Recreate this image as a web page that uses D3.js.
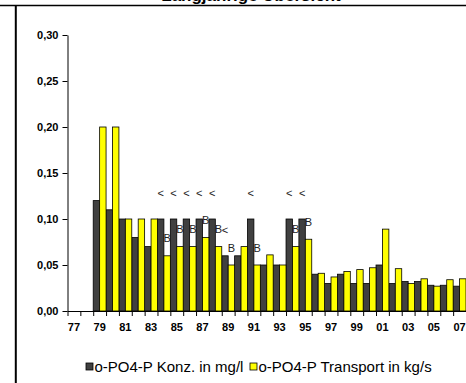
<!DOCTYPE html>
<html>
<head>
<meta charset="utf-8">
<script src="https://cdn.jsdelivr.net/npm/d3@7"></script>
<style>
  html, body { margin: 0; padding: 0; background: #fff; }
  svg { display: block; font-family: Arial, "Liberation Sans", sans-serif; }
</style>
</head>
<body>
<svg id="chart" width="466" height="383"></svg>
<script>
// Years on the category axis (two-digit labels)
const years = d3.range(1977, 2008);
// o-PO4-P concentration in mg/l (null = no measurement)
const konz = [null, null, 0.12, 0.11, 0.10, 0.08, 0.07, 0.10, 0.10, 0.10,
  0.10, 0.10, 0.06, 0.06, 0.10, 0.05, 0.05, 0.10, 0.10, 0.040,
  0.030, 0.040, 0.030, 0.030, 0.050, 0.030, 0.032, 0.032, 0.028, 0.028, 0.027];
// o-PO4-P transport in kg/s
const transport = [null, null, 0.20, 0.20, 0.10, 0.10, 0.10, 0.06, 0.07, 0.07,
  0.08, 0.07, 0.05, 0.07, 0.05, 0.061, 0.05, 0.07, 0.078, 0.041,
  0.037, 0.043, 0.045, 0.047, 0.089, 0.046, 0.030, 0.035, 0.027, 0.034, 0.035];
// Flags: "<" below detection limit (concentration), "B" computed value (transport)
const konzFlags = ["", "", "", "", "", "", "", "<", "<", "<",
  "<", "<", "<", "", "<", "", "", "<", "<", "",
  "", "", "", "", "", "", "", "", "", "", ""];
const transportFlags = ["", "", "", "", "", "", "", "B", "B", "B",
  "B", "B", "B", "", "B", "", "", "B", "B", "",
  "", "", "", "", "", "", "", "", "", "", ""];
const yTicks = [0, 0.05, 0.10, 0.15, 0.20, 0.25, 0.30];
const seriesNames = ["o-PO4-P Konz. in mg/l", "o-PO4-P Transport in kg/s"];
const colors = ["#404040", "#ffff00"];

const svg = d3.select("#chart");

// frame lines
svg.append("line").attr("x1", 0).attr("x2", 466).attr("y1", 5.5).attr("y2", 5.5)
  .attr("stroke", "#000").attr("stroke-width", 1.5);
svg.append("line").attr("x1", 15.8).attr("x2", 15.8).attr("y1", 5).attr("y2", 383)
  .attr("stroke", "#000").attr("stroke-width", 2);

// title
svg.append("text").attr("x", 251).attr("y", 0.5).attr("text-anchor", "middle")
  .attr("font-size", 17).attr("font-weight", "bold").text("Langjährige Übersicht");

const plotLeft = 67.5, plotRight = 466, plotTop = 35, plotBottom = 311;
const x = d3.scaleBand().domain(years).range([plotLeft, plotRight]).padding(0);
const xIdx = d3.scaleLinear().domain([0, years.length]).range([plotLeft, plotRight]);
const y = d3.scaleLinear().domain([0, 0.30]).range([plotBottom, plotTop]);
const bw = x.bandwidth() / 2;

const series = [konz, transport];
series.forEach((vals, s) => {
  svg.append("g").selectAll("rect")
    .data(years.map((yr, i) => ({ yr, v: vals[i] })).filter(d => d.v != null))
    .join("rect")
    .attr("x", d => x(d.yr) + s * bw)
    .attr("y", d => y(d.v))
    .attr("width", bw)
    .attr("height", d => y(0) - y(d.v))
    .attr("fill", colors[s])
    .attr("stroke", "#000")
    .attr("stroke-width", 0.8);
});

// flag labels
const flagSets = [[konzFlags, konz, 22], [transportFlags, transport, 13.5]];
flagSets.forEach(([flags, vals, off], s) => {
  svg.append("g").selectAll("text")
    .data(years.map((yr, i) => ({ yr, f: flags[i], v: vals[i] })).filter(d => d.f))
    .join("text")
    .attr("x", d => x(d.yr) + s * bw + bw / 2)
    .attr("y", d => y(d.v) - off)
    .attr("text-anchor", "middle")
    .attr("font-size", 11)
    .attr("fill", "#222")
    .text(d => d.f);
});

// y axis
const yAxis = svg.append("g").attr("transform", `translate(${plotLeft},0)`)
  .call(d3.axisLeft(y).tickValues(yTicks).tickSize(5).tickSizeOuter(0)
    .tickFormat(d => d3.format(".2f")(d).replace(".", ",")));
yAxis.selectAll("text").attr("font-size", 11).attr("font-weight", "bold")
  .attr("font-family", "Arial, 'Liberation Sans', sans-serif").attr("x", -9);

// x axis: ticks at category boundaries
svg.append("g").attr("transform", `translate(0,${plotBottom})`)
  .call(d3.axisBottom(xIdx).tickValues(d3.range(years.length + 1)).tickSize(5)
    .tickSizeOuter(0).tickFormat(""));
// category labels every second year
svg.append("g").attr("transform", `translate(0,${plotBottom})`)
  .call(d3.axisBottom(x).tickValues(years.filter(yr => yr % 2 === 1)).tickSize(0)
    .tickFormat(yr => String(yr % 100).padStart(2, "0")))
  .call(g => g.select(".domain").remove())
  .selectAll("text").attr("font-size", 11).attr("font-weight", "bold")
  .attr("font-family", "Arial, 'Liberation Sans', sans-serif").attr("dy", "1.5em");

svg.selectAll(".domain, .tick line").attr("stroke", "#000");

// legend
const legendX = [86, 250];
seriesNames.forEach((name, s) => {
  svg.append("rect").attr("x", legendX[s]).attr("y", 363).attr("width", 7).attr("height", 7)
    .attr("fill", colors[s]).attr("stroke", "#000").attr("stroke-width", 0.8);
  svg.append("text").attr("x", legendX[s] + 8.5).attr("y", 371.5)
    .attr("font-size", 15).text(name);
});
</script>
</body>
</html>
